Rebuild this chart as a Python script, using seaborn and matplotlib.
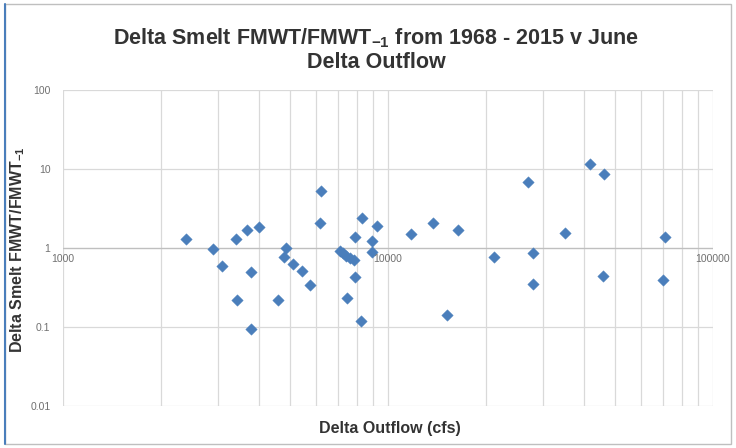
import matplotlib
matplotlib.use("Agg")
import matplotlib.pyplot as plt
import matplotlib.ticker as mticker
from matplotlib.patches import Rectangle
from matplotlib.lines import Line2D
import numpy as np
import pandas as pd
import seaborn as sns

# June Delta outflow (cfs) vs FMWT / FMWT(-1) index ratio
outflow = [2385, 2890, 3085, 3400, 3430, 3680, 3790, 3790, 4020, 4600,
           4855, 4800, 5110, 5425, 5767, 6220, 6178, 7115, 7270, 7426,
           7640, 7860, 7464, 8300, 7916, 9230, 8930, 8930, 7900, 8260,
           11770, 13730, 16460, 15160, 21150, 26900, 28000, 27870, 34970, 41830,
           46190, 45970, 71170, 70300]
ratio = [1.31, 0.96, 0.60, 1.29, 0.22, 1.69, 0.50, 0.094, 1.86, 0.22,
         0.99, 0.78, 0.62, 0.51, 0.345, 5.27, 2.09, 0.92, 0.86, 0.80,
         0.75, 0.70, 0.23, 2.38, 1.36, 1.90, 1.21, 0.88, 0.43, 0.119,
         1.49, 2.05, 1.69, 0.141, 0.76, 6.79, 0.86, 0.35, 1.56, 11.57,
         8.72, 0.44, 1.37, 0.39]

title = "Delta Smelt FMWT/FMWT$_{\\mathregular{-1}}$ from 1968 - 2015 v June\nDelta Outflow"
xlabel = "Delta Outflow (cfs)"
ylabel = "Delta Smelt FMWT/FMWT$_{\\mathregular{-1}}$"

df = pd.DataFrame({"outflow": outflow, "ratio": ratio})

sns.set_theme(style="white")
plt.rcParams["font.family"] = ["Liberation Sans", "DejaVu Sans"]

fig = plt.figure(figsize=(7.36, 4.48), dpi=100)
ax = fig.add_axes([63 / 736, 1 - 406 / 448, 650 / 736, 316 / 448])

grid_col = "#d9d9d9"
ax.set_xscale("log")
ax.set_yscale("log")
ax.set_xlim(1000, 100000)
ax.set_ylim(0.01, 100)

# Excel-style gridlines: major + minor verticals, decade horizontals
ax.xaxis.set_major_locator(mticker.LogLocator(base=10))
ax.xaxis.set_minor_locator(mticker.LogLocator(base=10, subs=np.arange(2, 10)))
ax.yaxis.set_major_locator(mticker.LogLocator(base=10))
ax.yaxis.set_minor_locator(mticker.NullLocator())
ax.grid(True, which="major", axis="both", color=grid_col, linewidth=0.9)
ax.grid(True, which="minor", axis="x", color=grid_col, linewidth=0.9)
ax.set_axisbelow(True)

for s in ax.spines.values():
    s.set_visible(False)
ax.axhline(1, color="#bfbfbf", linewidth=0.9, zorder=1)

sns.scatterplot(data=df, x="outflow", y="ratio", marker="D", s=34,
                color="#4a7ebb", edgecolor="#4a7ebb", linewidth=0.3, ax=ax, zorder=3)

# y tick labels on left
ax.tick_params(axis="y", which="both", length=0, pad=9, labelsize=7.5, labelcolor="#707070")
ax.yaxis.set_major_formatter(mticker.FuncFormatter(lambda v, p: f"{v:g}"))

# x tick labels sit below the y=1 crossing line
ax.tick_params(axis="x", which="both", length=0, labelbottom=False)
for xv in [1000, 10000, 100000]:
    ax.text(xv, 0.85, f"{xv}", ha="center", va="top", fontsize=7.5, color="#707070")

ax.set_xlabel("")
ax.set_ylabel("")

fig.text(376 / 736, 1 - 50 / 448, title, ha="center", va="center",
         fontsize=15.5, fontweight="bold", color="#333333", linespacing=1.15)
fig.text(18 / 736, 1 - 250 / 448, ylabel, ha="center", va="center", rotation=90,
         fontsize=11.5, fontweight="bold", color="#333333")
fig.text(390 / 736, 1 - 428 / 448, xlabel, ha="center", va="center",
         fontsize=11.5, fontweight="bold", color="#333333")

# chart area border
fig.patches.append(Rectangle((5 / 736, 4 / 448), 726 / 736, 440 / 448, transform=fig.transFigure,
                             fill=False, edgecolor="#bfbfbf", linewidth=1.0))
fig.lines.append(Line2D([5 / 736, 5 / 736], [4 / 448, 444 / 448], transform=fig.transFigure,
                        color="#4a7ebb", linewidth=1.5))

fig.savefig("out.png", dpi=100)
